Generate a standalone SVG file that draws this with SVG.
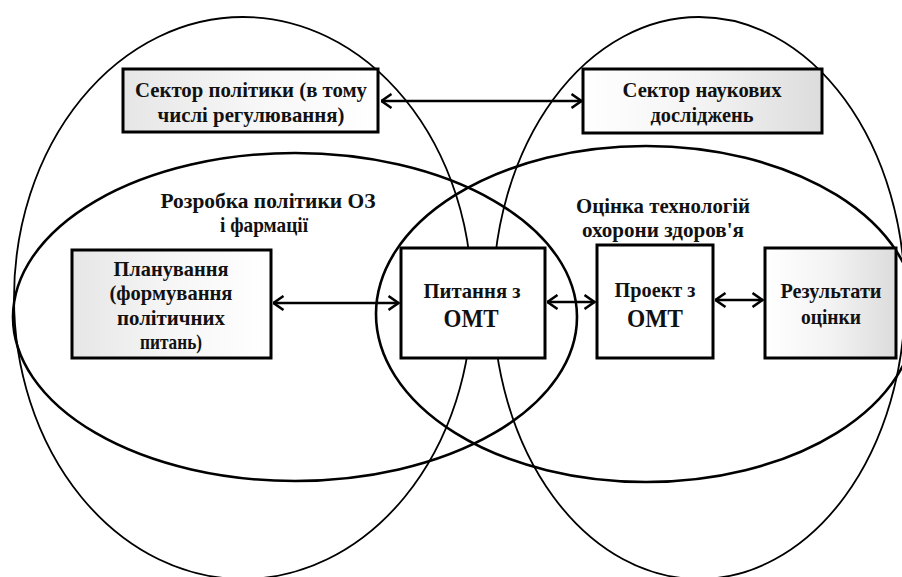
<svg xmlns="http://www.w3.org/2000/svg" width="902" height="577" viewBox="0 0 902 577" font-family="Liberation Serif, DejaVu Serif, serif">
<style>
.ell{fill:none;stroke:#000}
.thin{stroke-width:1.8}
.thick{stroke-width:2.6}
.box{stroke:#000;stroke-width:3}
.t{font-weight:bold;fill:#111;text-anchor:middle}
.s20{font-size:21px}
.s24{font-size:25px}
.con{stroke:#000;stroke-width:2.6;fill:none}
</style>
<defs>
<marker id="ah" viewBox="0 0 12 16" refX="11.5" refY="8" markerWidth="12" markerHeight="16" markerUnits="userSpaceOnUse" orient="auto-start-reverse">
<path d="M1,1 L11,8 L1,15" fill="none" stroke="#000" stroke-width="2.5"/>
</marker>
<linearGradient id="gl" x1="0" y1="0" x2="1" y2="0">
<stop offset="0" stop-color="#e6e6e6"/><stop offset="0.5" stop-color="#f6f6f6"/><stop offset="1" stop-color="#ffffff"/>
</linearGradient>
<linearGradient id="gr" x1="0" y1="0" x2="1" y2="0">
<stop offset="0" stop-color="#ffffff"/><stop offset="0.5" stop-color="#f3f3f3"/><stop offset="1" stop-color="#dcdcdc"/>
</linearGradient>
</defs>
<rect width="902" height="577" fill="#fff"/>
<g id="sets">
<ellipse class="ell thin" cx="243" cy="298" rx="229" ry="281"/>
<ellipse class="ell thin" cx="699" cy="298" rx="206" ry="281"/>
<ellipse class="ell thick" cx="295" cy="317" rx="282" ry="164"/>
<ellipse class="ell thick" cx="646" cy="314" rx="270" ry="168"/>
</g>
<g id="label-policy">
<text class="t s20" x="268" y="208" textLength="215" lengthAdjust="spacingAndGlyphs">Розробка політики  ОЗ</text>
<text class="t s20" x="264" y="232" textLength="88" lengthAdjust="spacingAndGlyphs">і фармації</text>
</g>
<g id="label-hta">
<text class="t s20" x="663" y="213" textLength="174" lengthAdjust="spacingAndGlyphs">Оцінка технологій</text>
<text class="t s20" x="663" y="237" textLength="162" lengthAdjust="spacingAndGlyphs">охорони здоров'я</text>
</g>
<g id="connectors">
<line class="con" x1="381" y1="101" x2="582" y2="101" marker-start="url(#ah)" marker-end="url(#ah)"/>
<line class="con" x1="273" y1="303" x2="399" y2="303" marker-start="url(#ah)" marker-end="url(#ah)"/>
<line class="con" x1="547" y1="302" x2="595" y2="302" marker-start="url(#ah)" marker-end="url(#ah)"/>
<line class="con" x1="715" y1="300" x2="763" y2="300" marker-start="url(#ah)" marker-end="url(#ah)"/>
</g>
<g id="policy-sector">
<rect class="box" x="123" y="69" width="255" height="63" fill="url(#gl)"/>
<text class="t s20" x="251" y="97" textLength="232" lengthAdjust="spacingAndGlyphs">Сектор політики (в тому</text>
<text class="t s20" x="251" y="122" textLength="187" lengthAdjust="spacingAndGlyphs">числі регулювання)</text>
</g>
<g id="research-sector">
<rect class="box" x="583" y="69" width="239" height="64" fill="url(#gr)"/>
<text class="t s20" x="702" y="97" textLength="159" lengthAdjust="spacingAndGlyphs">Сектор наукових</text>
<text class="t s20" x="702" y="122" textLength="103" lengthAdjust="spacingAndGlyphs">досліджень</text>
</g>
<g id="planning">
<rect class="box" x="72" y="250" width="199" height="108" fill="url(#gl)"/>
<text class="t s20" x="171" y="276" textLength="115" lengthAdjust="spacingAndGlyphs">Планування</text>
<text class="t s20" x="171" y="300" textLength="123" lengthAdjust="spacingAndGlyphs">(формування</text>
<text class="t s20" x="171" y="325" textLength="108" lengthAdjust="spacingAndGlyphs">політичних</text>
<text class="t s20" x="171" y="349" textLength="62" lengthAdjust="spacingAndGlyphs">питань)</text>
</g>
<g id="hta-question">
<rect class="box" x="401" y="248" width="144" height="110" fill="#fff"/>
<text class="t s20" x="472" y="298" textLength="97" lengthAdjust="spacingAndGlyphs">Питання з</text>
<text class="t s24" x="471" y="327" textLength="55" lengthAdjust="spacingAndGlyphs">ОМТ</text>
</g>
<g id="hta-project">
<rect class="box" x="597" y="245" width="116" height="113" fill="#fff"/>
<text class="t s20" x="655" y="297" textLength="81" lengthAdjust="spacingAndGlyphs">Проект з</text>
<text class="t s24" x="655" y="327" textLength="56" lengthAdjust="spacingAndGlyphs">ОМТ</text>
</g>
<g id="results">
<rect class="box" x="765" y="248" width="131" height="110" fill="url(#gr)"/>
<text class="t s20" x="831" y="298" textLength="101" lengthAdjust="spacingAndGlyphs">Результати</text>
<text class="t s20" x="831" y="324" textLength="60" lengthAdjust="spacingAndGlyphs">оцінки</text>
</g>
</svg>
